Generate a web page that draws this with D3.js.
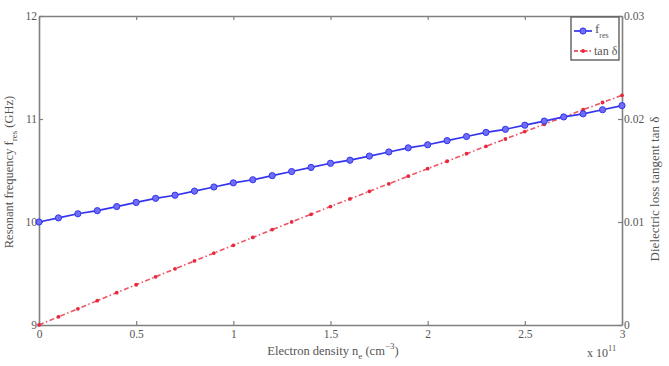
<!DOCTYPE html>
<html>
<head>
<meta charset="utf-8">
<script src="https://cdn.jsdelivr.net/npm/d3@7"></script>
<style>
  body { margin: 0; background: #fff; }
  text { font-family: "Liberation Serif", "DejaVu Serif", serif; fill: #555; }
</style>
</head>
<body>
<div id="vis"></div>
<script>
// electron density (x 10^11 cm^-3)
var density = [0, 0.1, 0.2, 0.3, 0.4, 0.5, 0.6, 0.7, 0.8, 0.9, 1.0,
  1.1, 1.2, 1.3, 1.4, 1.5, 1.6, 1.7, 1.8, 1.9, 2.0,
  2.1, 2.2, 2.3, 2.4, 2.5, 2.6, 2.7, 2.8, 2.9, 3.0];
// resonant frequency (GHz)
var fres = [10.00, 10.04, 10.08, 10.11, 10.15, 10.19, 10.23, 10.26, 10.30, 10.34, 10.38,
  10.41, 10.45, 10.49, 10.53, 10.57, 10.60, 10.64, 10.68, 10.72, 10.75,
  10.79, 10.83, 10.87, 10.90, 10.94, 10.98, 11.02, 11.05, 11.09, 11.13];
// dielectric loss tangent
var tand = [0, 0.00079, 0.00157, 0.00236, 0.00314, 0.00391, 0.00468, 0.00545, 0.00622, 0.00698, 0.00774,
  0.0085, 0.00926, 0.01001, 0.01075, 0.0115, 0.01224, 0.01298, 0.01371, 0.01445, 0.01518,
  0.0159, 0.01663, 0.01735, 0.01806, 0.01878, 0.01949, 0.02019, 0.0209, 0.0216, 0.0223];

var xTicks = [0, 0.5, 1, 1.5, 2, 2.5, 3];
var xTickLabels = ["0", "0.5", "1", "1.5", "2", "2.5", "3"];
var leftTicks = [9, 10, 11, 12];
var rightTicks = [0, 0.01, 0.02, 0.03];
var rightTickLabels = ["0", "0.01", "0.02", "0.03"];

var W = 669, H = 366,
  pLeft = 39, pRight = 622, pTop = 16, pBottom = 325,
  axisColor = "#808080",
  blue = "#3434ee", red = "#e8283c";

var svg = d3.select("#vis").append("svg")
  .attr("width", W)
  .attr("height", H);

var x = d3.scaleLinear().domain([0, 3]).range([pLeft, pRight]);
var yL = d3.scaleLinear().domain([9, 12]).range([pBottom, pTop]);
var yR = d3.scaleLinear().domain([0, 0.03]).range([pBottom, pTop]);

// axes (ticks pointing inward, matlab style)
var tickStyle = function(g) {
  g.selectAll(".domain").attr("stroke", axisColor).attr("stroke-width", 1.6);
  g.selectAll(".tick line").attr("stroke", axisColor).attr("stroke-width", 1.2);
  g.selectAll("text").attr("font-size", 11.5).attr("fill", "#555")
    .attr("font-family", "Liberation Serif, serif");
};

svg.append("g")
  .attr("transform", "translate(0," + pBottom + ")")
  .call(d3.axisBottom(x).tickValues(xTicks).tickSize(-4).tickSizeOuter(0)
    .tickPadding(5).tickFormat(function(d, i) { return xTickLabels[i]; }))
  .call(tickStyle);

svg.append("g")
  .attr("transform", "translate(0," + pTop + ")")
  .call(d3.axisTop(x).tickValues(xTicks).tickSize(-4).tickSizeOuter(0).tickFormat(""))
  .call(tickStyle);

svg.append("g")
  .attr("transform", "translate(" + pLeft + ",0)")
  .call(d3.axisLeft(yL).tickValues(leftTicks).tickSize(-4).tickSizeOuter(0)
    .tickPadding(2).tickFormat(d3.format("d")))
  .call(tickStyle);

svg.append("g")
  .attr("transform", "translate(" + pRight + ",0)")
  .call(d3.axisRight(yR).tickValues(rightTicks).tickSize(-4).tickSizeOuter(0)
    .tickPadding(2).tickFormat(function(d, i) { return rightTickLabels[i]; }))
  .call(tickStyle);

// lines
var fLine = d3.line()
  .x(function(d, i) { return x(density[i]); })
  .y(function(d) { return yL(d); });
var tLine = d3.line()
  .x(function(d, i) { return x(density[i]); })
  .y(function(d) { return yR(d); });

svg.append("path")
  .datum(tand)
  .attr("d", tLine)
  .attr("fill", "none")
  .attr("stroke", red)
  .attr("stroke-width", 1.6)
  .attr("stroke-dasharray", "5,2.5,1.5,2.5")
  .attr("opacity", 0.8);

svg.selectAll(".tpt")
  .data(tand)
  .enter().append("circle")
  .attr("class", "tpt")
  .attr("cx", function(d, i) { return x(density[i]); })
  .attr("cy", function(d) { return yR(d); })
  .attr("r", 1.9)
  .attr("fill", red);

svg.append("path")
  .datum(fres)
  .attr("d", fLine)
  .attr("fill", "none")
  .attr("stroke", blue)
  .attr("stroke-width", 1.7);

svg.selectAll(".fpt")
  .data(fres)
  .enter().append("circle")
  .attr("class", "fpt")
  .attr("cx", function(d, i) { return x(density[i]); })
  .attr("cy", function(d) { return yL(d); })
  .attr("r", 3.1)
  .attr("fill", "#6e6ef6")
  .attr("stroke", blue)
  .attr("stroke-width", 1);

// legend
var lg = svg.append("g");
lg.append("rect")
  .attr("x", 571).attr("y", 17).attr("width", 48).attr("height", 43)
  .attr("fill", "#fff").attr("stroke", "#606060").attr("stroke-width", 1.4);
lg.append("line").attr("x1", 574).attr("x2", 592).attr("y1", 31).attr("y2", 31)
  .attr("stroke", blue).attr("stroke-width", 1.7);
lg.append("circle").attr("cx", 583).attr("cy", 31).attr("r", 3.1)
  .attr("fill", "#6e6ef6").attr("stroke", blue).attr("stroke-width", 1);
var t1 = lg.append("text").attr("x", 595).attr("y", 33).attr("font-size", 13);
t1.append("tspan").text("f");
t1.append("tspan").attr("font-size", 8).attr("dy", 5).text("res");
lg.append("line").attr("x1", 574).attr("x2", 592).attr("y1", 51).attr("y2", 51)
  .attr("stroke", red).attr("stroke-width", 1.4).attr("stroke-dasharray", "4,2,1.5,2");
lg.append("circle").attr("cx", 583).attr("cy", 51).attr("r", 1.9).attr("fill", red);
lg.append("text").attr("x", 594).attr("y", 55).attr("font-size", 12).text("tan δ");

// axis titles
var xt = svg.append("text")
  .attr("x", 333).attr("y", 355).attr("text-anchor", "middle").attr("font-size", 12.5);
xt.append("tspan").text("Electron density n");
xt.append("tspan").attr("font-size", 9).attr("dy", 4).text("e");
xt.append("tspan").attr("dy", -4).text(" (cm");
xt.append("tspan").attr("font-size", 9).attr("dy", -6).text("−3");
xt.append("tspan").attr("dy", 6).text(")");

var xe = svg.append("text")
  .attr("x", 587).attr("y", 357).attr("font-size", 12);
xe.append("tspan").text("x 10");
xe.append("tspan").attr("font-size", 8.5).attr("dy", -6).text("11");

var yl = svg.append("text")
  .attr("transform", "translate(13,172) rotate(-90)")
  .attr("text-anchor", "middle").attr("font-size", 12.5);
yl.append("tspan").text("Resonant frequency f");
yl.append("tspan").attr("font-size", 9).attr("dy", 4).text("res");
yl.append("tspan").attr("dy", -4).text(" (GHz)");

svg.append("text")
  .attr("transform", "translate(659,189) rotate(-90)")
  .attr("text-anchor", "middle").attr("font-size", 13)
  .text("Dielectric loss tangent tan δ");
</script>
</body>
</html>
